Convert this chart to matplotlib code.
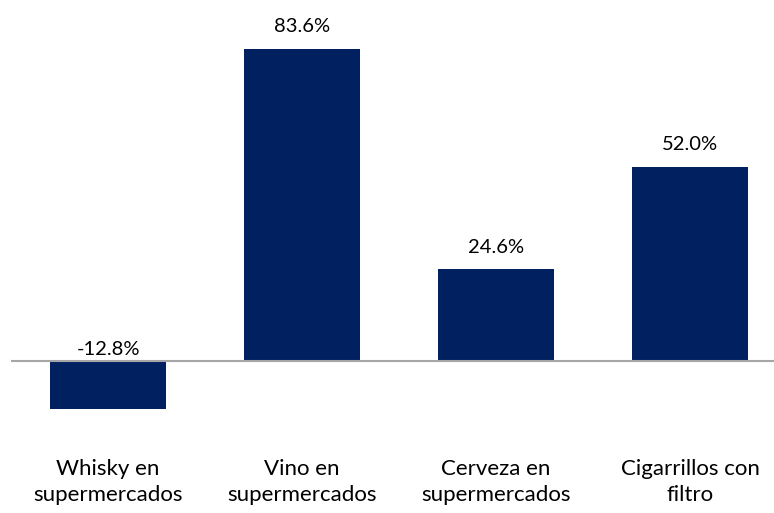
import numpy as np
import matplotlib.pyplot as plt
import matplotlib.transforms as mtransforms

plt.rcParams['font.family'] = ['Lato', 'DejaVu Sans']

categorias = ['Whisky en\nsupermercados', 'Vino en\nsupermercados',
              'Cerveza en\nsupermercados', 'Cigarrillos con\nfiltro']
variacion = [-12.8, 83.6, 24.6, 52.0]
etiquetas = ['-12.8%', '83.6%', '24.6%', '52.0%']

fig = plt.figure(figsize=(7.74, 5.13), dpi=100)
# zona del grafico en pixeles: izq 11, arriba 0, abajo 430
ax = fig.add_axes([11 / 774, (513 - 430) / 513, 763 / 774, 430 / 513])

x = np.arange(len(categorias))
ax.bar(x, variacion, width=0.6, color='#002060', zorder=2)
ax.axhline(0, color='#a6a6a6', lw=1.5, zorder=3)

ax.set_xlim(-0.5, -0.5 + 763 / 194)
ax.set_ylim(-69 / 3.732, 361 / 3.732)
ax.axis('off')

for xi, v, t in zip(x, variacion, etiquetas):
    if v >= 0:
        ax.annotate(t, (xi, v), xytext=(0, 12), textcoords='offset points',
                    ha='center', va='baseline', fontsize=14.5, color='#000000')
    else:
        ax.annotate(t, (xi, 0), xytext=(0, 4.5), textcoords='offset points',
                    ha='center', va='baseline', fontsize=14.5, color='#000000')

trans = mtransforms.blended_transform_factory(ax.transData, fig.transFigure)
for xi, c in zip(x, categorias):
    ax.text(xi, 1 - 482 / 513, c, transform=trans,
            ha='center', va='center', fontsize=16, linespacing=1.38, color='#000000')

fig.savefig('out.png', dpi=100)
